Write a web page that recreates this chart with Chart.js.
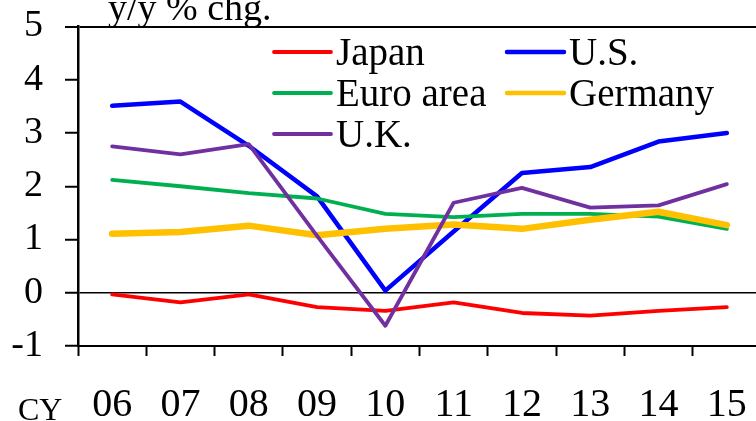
<!DOCTYPE html>
<html>
<head>
<meta charset="utf-8">
<script src="https://cdn.jsdelivr.net/npm/chart.js@4/dist/chart.umd.min.js"></script>
<style>
  html, body { margin: 0; padding: 0; background: #fff; overflow: hidden; }
  #wrap { position: absolute; left: 0; top: 0; width: 756px; height: 421px; overflow: hidden; }
  canvas { display: block; }
</style>
</head>
<body>
<div id="wrap"><canvas id="c" width="761" height="421"></canvas></div>
<script>
// Calendar years (CY)
const years = ['06', '07', '08', '09', '10', '11', '12', '13', '14', '15'];

// Consumer price changes, y/y %
const japan   = [-0.03, -0.18, -0.03, -0.27, -0.34, -0.18, -0.38, -0.43, -0.34, -0.27];
const us      = [3.51, 3.59, 2.76, 1.81, 0.04, 1.15, 2.25, 2.36, 2.84, 3.00];
const euro    = [2.12, 2.00, 1.87, 1.77, 1.48, 1.42, 1.48, 1.48, 1.43, 1.20];
const germany = [1.11, 1.14, 1.26, 1.08, 1.20, 1.28, 1.20, 1.37, 1.52, 1.27];
const uk      = [2.75, 2.60, 2.79, 1.07, -0.62, 1.69, 1.97, 1.60, 1.64, 2.04];

const yTicks = { min: -1, max: 5, step: 1 };

const SERIF = '"Liberation Serif", "Times New Roman", serif';
const BLACK = '#000000';

function series(label, data, color, width, order) {
  return {
    label, data, order,
    borderColor: color,
    backgroundColor: color,
    borderWidth: width,
    pointRadius: 0,
    pointHoverRadius: 0,
    tension: 0,
    borderJoinStyle: 'round',
    borderCapStyle: 'round',
    fill: false
  };
}

// Two-column legend drawn inside the plot area
const insideLegend = {
  id: 'insideLegend',
  afterDraw(chart) {
    const { ctx, chartArea } = chart;
    const colX = [chartArea.left + 196, chartArea.left + 429];
    const rowY = [chartArea.top + 25.5, chartArea.top + 66.5, chartArea.top + 107.5];
    const lineLen = 57;
    ctx.save();
    ctx.font = '39px ' + SERIF;
    ctx.textBaseline = 'alphabetic';
    ctx.textAlign = 'left';
    chart.data.datasets.forEach((ds, i) => {
      const x = colX[i % 2];
      const y = rowY[Math.floor(i / 2)];
      ctx.strokeStyle = ds.borderColor;
      ctx.lineWidth = Math.min(ds.borderWidth, 4.5);
      ctx.lineCap = 'round';
      ctx.beginPath();
      ctx.moveTo(x, y);
      ctx.lineTo(x + lineLen, y);
      ctx.stroke();
      ctx.fillStyle = BLACK;
      ctx.fillText(ds.label, x + lineLen + 5, y + 13);
    });
    ctx.restore();
  }
};

// Unit caption above the plot and the "CY" caption beside the year labels
const captions = {
  id: 'captions',
  afterDraw(chart) {
    const { ctx, chartArea } = chart;
    ctx.save();
    ctx.fillStyle = BLACK;
    ctx.textAlign = 'left';
    ctx.textBaseline = 'alphabetic';
    ctx.font = '38px ' + SERIF;
    ctx.fillText('y/y % chg.', chartArea.left + 30, chartArea.top - 7);
    ctx.font = '32px ' + SERIF;
    ctx.fillText('CY', 18, 420);
    ctx.restore();
  }
};

new Chart(document.getElementById('c'), {
  type: 'line',
  data: {
    labels: years,
    datasets: [
      series('Japan', japan, '#FF0000', 3.8, 4),
      series('U.S.', us, '#0000FF', 4.5, 3),
      series('Euro area', euro, '#00B050', 3.8, 2),
      series('Germany', germany, '#FFC000', 6.5, 1),
      series('U.K.', uk, '#7030A0', 3.8, 0)
    ]
  },
  options: {
    responsive: false,
    animation: false,
    events: [],
    layout: { padding: { top: 26.5, left: 0, right: 0, bottom: 0 } },
    plugins: {
      legend: { display: false },
      tooltip: { enabled: false },
      title: { display: false }
    },
    scales: {
      x: {
        offset: true,
        afterFit(s) { s.height = 75; s.paddingLeft = 0; s.paddingRight = 0; },
        grid: {
          offset: true,
          drawOnChartArea: false,
          drawTicks: true,
          tickLength: 10,
          tickWidth: 2,
          tickColor: BLACK
        },
        border: { display: true, color: BLACK, width: 2 },
        ticks: {
          color: BLACK,
          font: { family: SERIF, size: 40 },
          padding: 25,
          maxRotation: 0,
          autoSkip: false
        }
      },
      y: {
        min: yTicks.min,
        max: yTicks.max,
        afterFit(s) { s.width = 78; s.paddingTop = 0; s.paddingBottom = 0; },
        grid: {
          drawOnChartArea: true,
          color: c => (c.tick && (c.tick.value === 0 || c.tick.value === yTicks.max)) ? BLACK : 'rgba(0,0,0,0)',
          lineWidth: c => (c.tick && c.tick.value === yTicks.max) ? 2 : 1.5,
          tickLength: 13,
          tickWidth: 2,
          tickColor: BLACK
        },
        border: { display: true, color: BLACK, width: 2.5 },
        ticks: {
          stepSize: yTicks.step,
          color: BLACK,
          font: { family: SERIF, size: 38 },
          padding: 22
        }
      }
    }
  },
  plugins: [insideLegend, captions]
});
</script>
</body>
</html>
